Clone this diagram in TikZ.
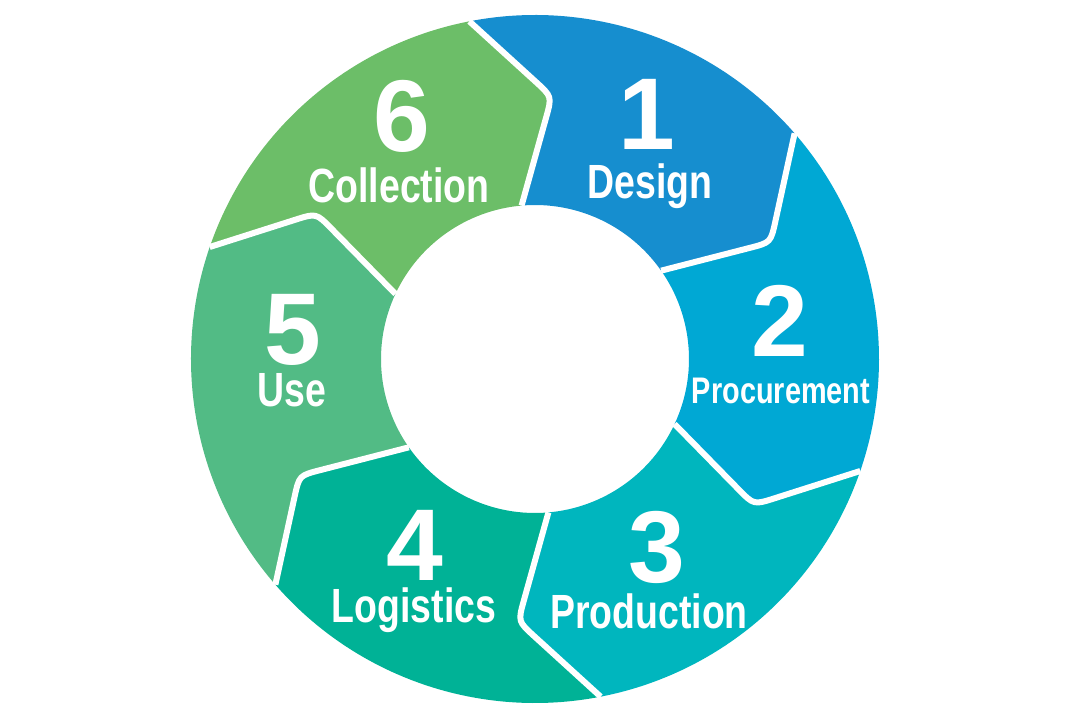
\documentclass[tikz,border=0pt]{standalone}
\usepackage{fontspec}
\setmainfont{Liberation Sans}
\newfontfamily\narrowfont[FakeStretch=0.78]{Liberation Sans}
\usetikzlibrary{calc}
\definecolor{designblue}{RGB}{22,142,207}
\definecolor{procureblue}{RGB}{0,168,212}
\definecolor{productionteal}{RGB}{0,182,190}
\definecolor{logisticsgreen}{RGB}{0,178,150}
\definecolor{usegreen}{RGB}{82,187,133}
\definecolor{collectgreen}{RGB}{108,190,104}

\begin{document}
\begin{tikzpicture}[x=1pt,y=1pt,
    num/.style={text=white,inner sep=0pt,anchor=base,font=\fontsize{102}{102}\selectfont\bfseries},
    lbl/.style={text=white,inner sep=0pt,anchor=base,font=\fontsize{48}{48}\selectfont\narrowfont\bfseries},
    gap/.style={white,line width=6pt,line join=round}]
    \useasboundingbox (-535,-361) rectangle (545,359);
    % boundaries between steps: outer end, arrow tip, inner end
    \foreach \j in {0,...,5}{
        \coordinate (o\j) at (101-60*\j:344);
        \coordinate (t\j) at (86.3-60*\j:263);
        \coordinate (i\j) at (95-60*\j:154);
        \coordinate (ta\j) at ($(t\j)!22pt!(o\j)$);
        \coordinate (tb\j) at ($(t\j)!22pt!(i\j)$);
    }
    % the six steps of the ring
    \foreach \k/\col in {1/designblue,2/procureblue,3/productionteal,4/logisticsgreen,5/usegreen,6/collectgreen}{
        \pgfmathtruncatemacro\p{\k-1}
        \pgfmathtruncatemacro\n{mod(\k,6)}
        \fill[\col] (o\p) arc[start angle={101-60*\p}, end angle={101-60*\k}, radius=344]
            -- (ta\n) .. controls (t\n) .. (tb\n) -- (i\n)
            arc[start angle={95-60*\k}, end angle={95-60*\p}, radius=154]
            -- (tb\p) .. controls (t\p) .. (ta\p) -- cycle;
    }
    \foreach \j in {0,...,5}
        \draw[gap] (o\j) -- (ta\j) .. controls (t\j) .. (tb\j) -- (i\j);
    % numbers and names
    \node[num] (n1) at (112,209) {1};
    \node[lbl] (l1) at (115,160) {Design};
    \node[num] (n2) at (245,2) {2};
    \node[lbl,font=\fontsize{37}{37}\selectfont\narrowfont\bfseries] (l2) at (246,-45) {Procurement};
    \node[num] (n3) at (122,-223) {3};
    \node[lbl] (l3) at (114,-269) {Production};
    \node[num] (n4) at (-120,-221) {4};
    \node[lbl] (l4) at (-121,-263) {Logistics};
    \node[num] (n5) at (-242,-6) {5};
    \node[lbl] (l5) at (-243,-48) {Use};
    \node[num] (n6) at (-133,207) {6};
    \node[lbl] (l6) at (-136,156) {Collection};
\end{tikzpicture}
\end{document}
